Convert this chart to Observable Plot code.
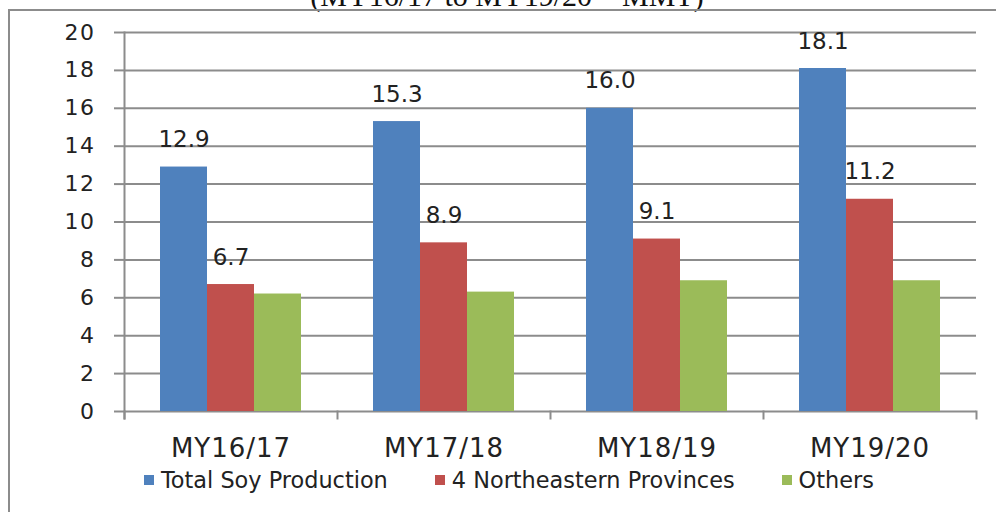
<!DOCTYPE html>
<html>
<head>
<meta charset="utf-8">
<script src="https://cdn.jsdelivr.net/npm/d3@7"></script>
<script src="https://cdn.jsdelivr.net/npm/@observablehq/plot@0.6"></script>
<style>
  html, body { margin: 0; padding: 0; background: #fff; }
  #wrap { position: relative; width: 996px; height: 512px; overflow: hidden; background: #fff; }
  #frame { position: absolute; left: 8px; top: 9px; width: 1200px; height: 700px; border: 2.5px solid #8c8c8c; box-sizing: border-box; }
  #title { position: absolute; left: 0; top: -19px; width: 1014px; text-align: center; font-family: "Liberation Serif", serif; font-size: 30px; line-height: 30px; color: #111; white-space: nowrap; }
  #chart { position: absolute; left: 0; top: 0; }
  #legend { position: absolute; left: 144px; top: 467px; display: flex; align-items: center; gap: 47px; font-family: "DejaVu Sans", sans-serif; font-size: 22.4px; line-height: 26px; color: #222; white-space: nowrap; }
  #legend .item { display: flex; align-items: center; }
  #legend .sw { width: 10px; height: 10px; margin-right: 7px; display: inline-block; }
</style>
</head>
<body>
<div id="wrap">
  <div id="title">(MY16/17 to MY19/20 – MMT)</div>
  <div id="frame"></div>
  <div id="chart"></div>
  <div id="legend"></div>
</div>
<script>
// ---- data ----
const categories = ["MY16/17", "MY17/18", "MY18/19", "MY19/20"];
const seriesNames = ["Total Soy Production", "4 Northeastern Provinces", "Others"];
const totalSoy = [12.9, 15.3, 16.0, 18.1];
const northeast = [6.7, 8.9, 9.1, 11.2];
const others = [6.2, 6.3, 6.9, 6.9];
const labelledSeries = ["Total Soy Production", "4 Northeastern Provinces"];
const yTicks = [0, 2, 4, 6, 8, 10, 12, 14, 16, 18, 20];
const colors = ["#4F81BD", "#C0504D", "#9BBB59"];

const seriesValues = [totalSoy, northeast, others];
const data = [];
categories.forEach((c, i) => {
  seriesNames.forEach((s, j) => data.push({category: c, series: s, value: seriesValues[j][i]}));
});

// ---- layout ----
const W = 996, H = 462, mT = 32, mB = 51, mL = 123, mR = 20;
const plotH = H - mT - mB;
const gray = "#8c8c8c";

const chart = Plot.plot({
  width: W, height: H,
  marginTop: mT, marginBottom: mB, marginLeft: mL, marginRight: mR,
  style: {background: "none", fontFamily: "'DejaVu Sans', sans-serif", color: "#222", overflow: "visible"},
  fx: {domain: categories, padding: 0, label: null},
  x: {domain: seriesNames, paddingOuter: 0.74, paddingInner: 0, axis: null},
  y: {domain: [0, 20], axis: null},
  color: {domain: seriesNames, range: colors},
  marks: [
    Plot.ruleY(yTicks, {stroke: gray, strokeWidth: 2}),
    Plot.barY(data, {fx: "category", x: "series", y: "value", fill: "series"}),
    Plot.text(data.filter(d => labelledSeries.includes(d.series)), {
      fx: "category", x: "series", y: "value",
      text: d => d.value.toFixed(1),
      dy: -20, lineAnchor: "bottom", fontSize: 23, fill: "#222",
      style: "letter-spacing:1px"
    }),
    // y axis line
    Plot.frame({anchor: "left", facetAnchor: "left", stroke: gray, strokeWidth: 2, insetBottom: -7}),
    // category boundary ticks
    Plot.frame({anchor: "left", stroke: gray, strokeWidth: 2, insetTop: plotH, insetBottom: -7}),
    Plot.frame({anchor: "right", facetAnchor: "right", stroke: gray, strokeWidth: 2, insetTop: plotH, insetBottom: -7}),
    Plot.axisY({ticks: yTicks, tickSize: 10, tickPadding: 19, stroke: gray, strokeWidth: 2, fill: "#222", fontSize: 22, label: null}),
    Plot.axisFx({anchor: "bottom", tickSize: 0, tickPadding: 27, fontSize: 26, fill: "#222", label: null})
  ]
});
document.getElementById("chart").appendChild(chart);

// tweak tick label spacing
d3.select(chart).selectAll("[aria-label='y-axis tick label'] text").style("letter-spacing", "1.5px");
d3.select(chart).selectAll("[aria-label='fx-axis tick label'] text").style("letter-spacing", "1px");

// ---- legend ----
const legend = d3.select("#legend");
seriesNames.forEach((s, i) => {
  const it = legend.append("div").attr("class", "item");
  it.append("span").attr("class", "sw").style("background", colors[i]);
  it.append("span").text(s);
});
</script>
</body>
</html>
